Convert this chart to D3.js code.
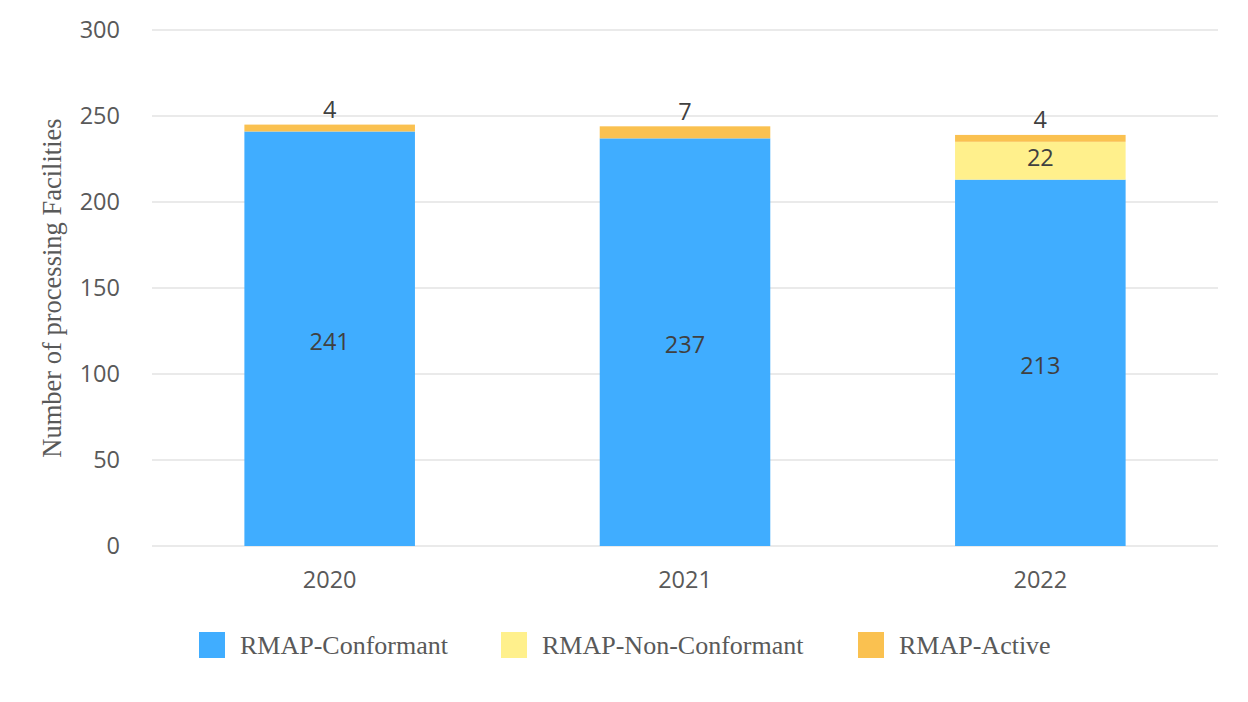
<!DOCTYPE html>
<html><head><meta charset="utf-8">
<script src="https://cdn.jsdelivr.net/npm/d3@7"></script>
<style>body{margin:0;background:#fff}</style>
</head><body>
<svg id="c" width="1248" height="702"></svg>
<script>
const years = ["2020","2021","2022"];
const conformant = [241,237,213];
const nonConformant = [0,0,22];
const active = [4,7,4];
const seriesNames = ["RMAP-Conformant","RMAP-Non-Conformant","RMAP-Active"];
const seriesColors = ["#40adff","#fff08c","#fac150"];
const yTicks = [0,50,100,150,200,250,300];

const svg = d3.select("#c");
const m = {l:152, r:1218, t:30, b:546};
const x = d3.scaleBand().domain(years).range([m.l,m.r]).paddingInner(0.52).paddingOuter(0.26);
const y = d3.scaleLinear().domain([0,300]).range([m.b,m.t]);

const rows = years.map((yr,i)=>({year:yr, c:conformant[i], n:nonConformant[i], a:active[i]}));
const stack = d3.stack().keys(["c","n","a"])(rows);

const sans = "Open Sans, sans-serif", fs = 23.5;

// grid
svg.append("g").selectAll("line").data(yTicks).join("line")
  .attr("x1",m.l).attr("x2",m.r).attr("y1",d=>y(d)).attr("y2",d=>y(d))
  .attr("stroke","#e3e3e3").attr("stroke-width",1.5);

// y tick labels
svg.append("g").selectAll("text").data(yTicks).join("text")
  .attr("x",120).attr("y",d=>y(d)).attr("dy","0.35em").attr("text-anchor","end")
  .attr("font-family",sans).attr("font-size",fs).attr("fill","#595959")
  .text(d=>d);

// bars
stack.forEach((s,si)=>{
  svg.append("g").selectAll("rect").data(s.filter(d=>d[1]-d[0]>0)).join("rect")
    .attr("x",d=>x(d.data.year)).attr("width",x.bandwidth())
    .attr("y",d=>y(d[1])).attr("height",d=>y(d[0])-y(d[1]))
    .attr("fill",seriesColors[si]);
});

const lblColor = "#404040";
// conformant labels centered
svg.append("g").selectAll("text").data(stack[0]).join("text")
  .attr("x",d=>x(d.data.year)+x.bandwidth()/2).attr("y",d=>y((d[0]+d[1])/2)+3).attr("dy","0.35em")
  .attr("text-anchor","middle").attr("font-family",sans).attr("font-size",fs).attr("fill",lblColor)
  .text(d=>d[1]-d[0]);
// non-conformant labels
svg.append("g").selectAll("text").data(stack[1].filter(d=>d[1]-d[0]>0)).join("text")
  .attr("x",d=>x(d.data.year)+x.bandwidth()/2).attr("y",d=>y((d[0]+d[1])/2)-3).attr("dy","0.35em")
  .attr("text-anchor","middle").attr("font-family",sans).attr("font-size",fs).attr("fill",lblColor)
  .text(d=>d[1]-d[0]);
// active labels above
svg.append("g").selectAll("text").data(stack[2]).join("text")
  .attr("x",d=>x(d.data.year)+x.bandwidth()/2).attr("y",d=>y(d[1])-15).attr("dy","0.35em")
  .attr("text-anchor","middle").attr("font-family",sans).attr("font-size",fs).attr("fill",lblColor)
  .text(d=>d[1]-d[0]);

// x labels
svg.append("g").selectAll("text").data(years).join("text")
  .attr("x",d=>x(d)+x.bandwidth()/2).attr("y",580).attr("dy","0.35em").attr("text-anchor","middle")
  .attr("font-family",sans).attr("font-size",fs).attr("fill","#595959")
  .text(d=>d);

// y title
svg.append("text").attr("transform","translate(52,288) rotate(-90)").attr("text-anchor","middle")
  .attr("dy","0.35em").attr("font-family","Liberation Serif, Times New Roman, serif").attr("font-size",26.5)
  .attr("fill","#595959").text("Number of processing Facilities");

// legend
const legX = [199,501,858];
const lg = svg.append("g").selectAll("g").data(seriesNames).join("g")
  .attr("transform",(d,i)=>`translate(${legX[i]},632)`);
lg.append("rect").attr("width",26).attr("height",26).attr("fill",(d,i)=>seriesColors[i]);
lg.append("text").attr("x",41).attr("y",13).attr("dy","0.35em")
  .attr("font-family","Liberation Serif, Times New Roman, serif").attr("font-size",26)
  .attr("fill","#595959").text(d=>d);
</script>
</body></html>
